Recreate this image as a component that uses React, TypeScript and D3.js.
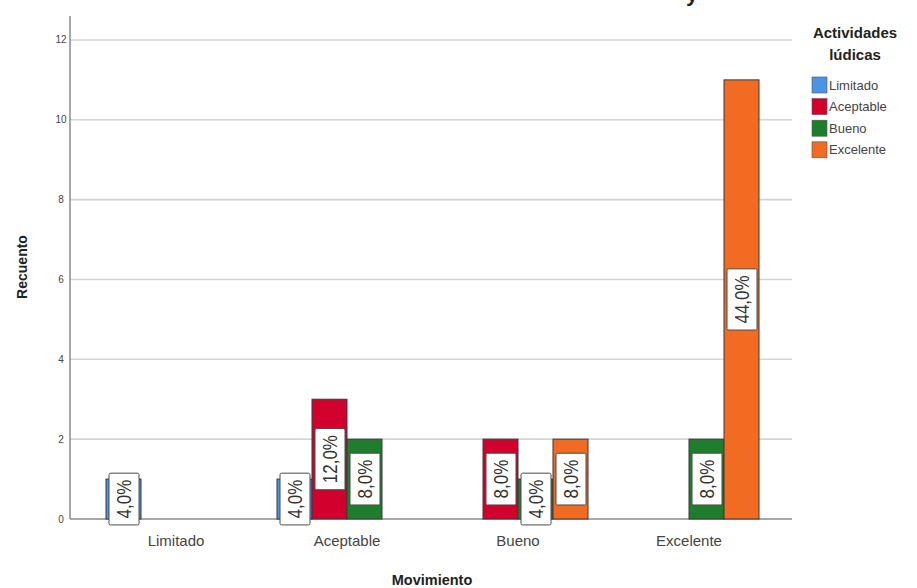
import React from "react";
import * as d3 from "d3";

const categories = ["Limitado", "Aceptable", "Bueno", "Excelente"];
const seriesNames = ["Limitado", "Aceptable", "Bueno", "Excelente"];
// counts[categoryIndex][seriesIndex]
const countsLimitado = [1, 0, 0, 0];
const countsAceptable = [1, 3, 2, 0];
const countsBueno = [0, 2, 1, 2];
const countsExcelente = [0, 0, 2, 11];
const counts = [countsLimitado, countsAceptable, countsBueno, countsExcelente];
const seriesColors = ["#4A93E6", "#D1002C", "#1E7E2E", "#F26B22"];
const yTicks = [0, 2, 4, 6, 8, 10, 12];
const total = 25;

const FONT = "'Liberation Sans', Arial, Helvetica, sans-serif";

function measure(text: string, font: string): number {
  const c = document.createElement("canvas").getContext("2d");
  if (!c) return text.length * 8;
  c.font = font;
  return c.measureText(text).width;
}

export default function App() {
  const W = 917;
  const H = 588;
  const axisX = 70;
  const plotRight = 792;
  const y = d3.scaleLinear().domain([0, 12.6]).range([519, 16]);
  const x = d3.scaleBand<string>().domain(categories).range([90.5, 774.5]).padding(0);
  const xs = d3
    .scaleBand<string>()
    .domain(seriesNames)
    .range([x.bandwidth() / 2 - 70, x.bandwidth() / 2 + 70])
    .padding(0);

  const labelSize = 17;
  const labelFont = `${labelSize}px ${FONT}`;

  const bars: any[] = [];
  counts.forEach((row, ci) => {
    row.forEach((v, si) => {
      if (v <= 0) return;
      const x0 = (x(categories[ci]) as number) + (xs(seriesNames[si]) as number);
      bars.push({ ci, si, v, x0, w: xs.bandwidth() });
    });
  });

  return (
    <svg
      width={W}
      height={H}
      style={{ position: "absolute", left: 0, top: 0, background: "#fff" }}
      fontFamily={FONT}
    >
      {/* clipped title fragment */}
      <text x={692} y={1} textAnchor="middle" fontSize={22} fontWeight="bold" fill="#222">
        y
      </text>

      {/* gridlines */}
      {yTicks.map((t) => (
        <line
          key={"g" + t}
          x1={axisX}
          x2={plotRight}
          y1={y(t)}
          y2={y(t)}
          stroke={t === 0 ? "#8a8a8a" : "#d4d4d4"}
          strokeWidth={t === 0 ? 1.5 : 1.6}
        />
      ))}
      {/* y axis */}
      <line x1={axisX} x2={axisX} y1={y(12.6)} y2={y(0)} stroke="#8a8a8a" strokeWidth={1.5} />
      {yTicks.map((t) => (
        <text
          key={"yt" + t}
          x={61}
          y={y(t)}
          dy="0.35em"
          textAnchor="middle"
          fontSize={10}
          fill="#444"
        >
          {t}
        </text>
      ))}
      <text
        transform={`translate(22,${267}) rotate(-90)`}
        textAnchor="middle"
        dy="0.35em"
        fontSize={14}
        fontWeight="bold"
        fill="#222"
      >
        Recuento
      </text>

      {/* bars */}
      {bars.map((b, i) => (
        <rect
          key={"b" + i}
          x={b.x0}
          y={y(b.v)}
          width={b.w}
          height={y(0) - y(b.v)}
          fill={seriesColors[b.si]}
          stroke="#3a3a3a"
          strokeWidth={1}
        />
      ))}

      {/* value labels */}
      {bars.map((b, i) => {
        const txt = d3.format(".1f")((b.v / total) * 100).replace(".", ",") + "%";
        const tw = measure(txt, labelFont);
        const bh = tw + 13;
        const bw = 30;
        const cx = b.x0 + b.w / 2 + 0.5;
        const cy = (y(b.v) + y(0)) / 2;
        return (
          <g key={"l" + i} transform={`translate(${cx},${cy}) rotate(-90)`}>
            <rect
              x={-bh / 2}
              y={-bw / 2}
              width={bh}
              height={bw}
              fill="#fff"
              stroke="#4a4a4a"
              strokeWidth={1}
              rx={1.5}
            />
            <text
              x={0}
              y={0}
              transform="scale(1,1.2)"
              dy="0.36em"
              textAnchor="middle"
              fontSize={labelSize}
              fill="#333"
            >
              {txt}
            </text>
          </g>
        );
      })}

      {/* category labels */}
      {categories.map((c) => (
        <text
          key={"c" + c}
          x={(x(c) as number) + x.bandwidth() / 2}
          y={541}
          dy="0.35em"
          textAnchor="middle"
          fontSize={15}
          fill="#444"
        >
          {c}
        </text>
      ))}
      <text x={432} y={580} dy="0.35em" textAnchor="middle" fontSize={14.5} fontWeight="bold" fill="#222">
        Movimiento
      </text>

      {/* legend */}
      <text x={855} y={33} dy="0.35em" textAnchor="middle" fontSize={15} fontWeight="bold" fill="#222">
        Actividades
      </text>
      <text x={855} y={55} dy="0.35em" textAnchor="middle" fontSize={15} fontWeight="bold" fill="#222">
        lúdicas
      </text>
      {seriesNames.map((s, i) => (
        <g key={"lg" + s} transform={`translate(812,${85 + i * 21.6})`}>
          <rect x={0} y={-8} width={15} height={16} fill={seriesColors[i]} stroke="#555" strokeWidth={0.6} />
          <text x={17} y={0} dy="0.35em" fontSize={13} fill="#444">
            {s}
          </text>
        </g>
      ))}
    </svg>
  );
}
